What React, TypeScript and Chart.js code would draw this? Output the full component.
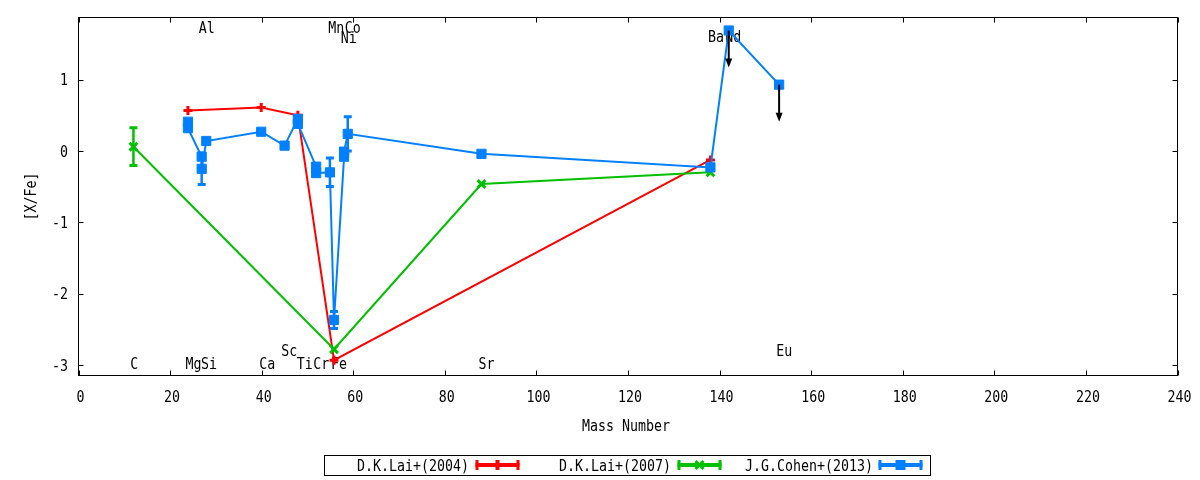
import React, { useEffect, useRef } from "react";
import { Chart, registerables } from "chart.js";

Chart.register(...registerables);

// ---- axis ranges and ticks ----
const xMin = 0;
const xMax = 240;
const yMin = -3.149;
const yMax = 1.872;
const xTicks = [0, 20, 40, 60, 80, 100, 120, 140, 160, 180, 200, 220, 240];
const yTicks = [-3, -2, -1, 0, 1];
const xTitle = "Mass Number";
const yTitle = "[X/Fe]";

// ---- series ----
const seriesNames = ["D.K.Lai+(2004)", "D.K.Lai+(2007)", "J.G.Cohen+(2013)"];
const seriesColors = ["#ff0000", "#00c000", "#0080ff"];

const lai2004Mass = [23.9, 39.9, 47.9, 55.8, 138];
const lai2004Val = [0.566, 0.608, 0.5, -2.935, -0.126];
const lai2004Err = [0, 0, 0, 0, 0];

const lai2007Mass = [12, 55.8, 88, 138];
const lai2007Val = [0.06, -2.78, -0.463, -0.3];
const lai2007Err = [0.265, 0, 0, 0];

const cohenMass = [23.9, 23.9, 26.9, 26.9, 27.9, 39.9, 45, 47.9, 47.9, 51.9, 51.9, 54.9, 55.8, 58, 58, 58.8, 88, 138, 142, 153];
const cohenVal = [0.41, 0.32, -0.08, -0.25, 0.14, 0.27, 0.075, 0.45, 0.38, -0.22, -0.31, -0.3, -2.37, -0.08, -0.01, 0.24, -0.04, -0.23, 1.69, 0.93];
const cohenErr = [0, 0, 0, 0.22, 0, 0, 0, 0, 0, 0, 0, 0.2, 0.12, 0, 0, 0.24, 0, 0, 0, 0];
const cohenUpperLimit = [false, false, false, false, false, false, false, false, false, false, false, false, false, false, false, false, false, false, true, true];
const arrowLength = 0.52;

// ---- element labels ----
const labelText = ["C", "Mg", "Si", "Al", "Ca", "Sc", "Ti", "Cr", "Mn", "Fe", "Co", "Ni", "Sr", "Ba", "Nd", "Eu"];
const labelX = [12.2, 25.1, 28.5, 28.0, 41.2, 46.0, 49.4, 53.0, 56.3, 56.9, 59.9, 59.0, 89.1, 139.2, 143.0, 154.1];
const labelY = [-2.98, -2.98, -2.98, 1.734, -2.98, -2.79, -2.98, -2.98, 1.734, -2.98, 1.734, 1.6, -2.98, 1.605, 1.605, -2.79];

const FONT = '16px "DejaVu Sans Mono"';
const SX = 0.83;
const CAP = 5.8;

function txt(ctx: CanvasRenderingContext2D, s: string, x: number, y: number, align: CanvasTextAlign, rot = 0) {
  ctx.save();
  ctx.translate(x, y);
  if (rot) ctx.rotate(rot);
  ctx.scale(SX, 1);
  ctx.font = FONT;
  ctx.fillStyle = "#000";
  ctx.textAlign = align;
  ctx.textBaseline = "alphabetic";
  ctx.fillText(s, 0, 0);
  ctx.restore();
}

const errs = [lai2004Err, lai2007Err, cohenErr];

const decorPlugin = {
  id: "decor",
  beforeDatasetsDraw(chart: any) {
    const ctx: CanvasRenderingContext2D = chart.ctx;
    const xs = chart.scales.x;
    const ys = chart.scales.y;
    for (let i = 0; i < labelText.length; i++) {
      txt(ctx, labelText[i], xs.getPixelForValue(labelX[i]), ys.getPixelForValue(labelY[i]) + CAP, "center");
    }
  },
  afterDatasetsDraw(chart: any) {
    const ctx: CanvasRenderingContext2D = chart.ctx;
    const xs = chart.scales.x;
    const ys = chart.scales.y;
    // error bars
    chart.data.datasets.forEach((ds: any, di: number) => {
      const e = errs[di];
      ds.data.forEach((p: any, i: number) => {
        if (!e[i]) return;
        const px = xs.getPixelForValue(p.x);
        const top = ys.getPixelForValue(p.y + e[i]);
        const bot = ys.getPixelForValue(p.y - e[i]);
        ctx.save();
        ctx.strokeStyle = seriesColors[di];
        ctx.lineWidth = 2.5;
        ctx.beginPath();
        ctx.moveTo(px, top);
        ctx.lineTo(px, bot);
        ctx.stroke();
        ctx.lineWidth = 3;
        ctx.beginPath();
        ctx.moveTo(px - 4, top);
        ctx.lineTo(px + 4, top);
        ctx.moveTo(px - 4, bot);
        ctx.lineTo(px + 4, bot);
        ctx.stroke();
        ctx.restore();
      });
    });
    // upper-limit arrows
    for (let i = 0; i < cohenMass.length; i++) {
      if (!cohenUpperLimit[i]) continue;
      const px = xs.getPixelForValue(cohenMass[i]);
      const y0 = ys.getPixelForValue(cohenVal[i]);
      const y1 = ys.getPixelForValue(cohenVal[i] - arrowLength);
      ctx.save();
      ctx.strokeStyle = "#000";
      ctx.fillStyle = "#000";
      ctx.lineWidth = 2;
      ctx.beginPath();
      ctx.moveTo(px, y0);
      ctx.lineTo(px, y1 - 4);
      ctx.stroke();
      ctx.beginPath();
      ctx.moveTo(px, y1);
      ctx.lineTo(px - 3.5, y1 - 9);
      ctx.lineTo(px + 3.5, y1 - 9);
      ctx.closePath();
      ctx.fill();
      ctx.restore();
    }
  },
  afterDraw(chart: any) {
    const ctx: CanvasRenderingContext2D = chart.ctx;
    const xs = chart.scales.x;
    const ys = chart.scales.y;
    const a = chart.chartArea;
    ctx.save();
    ctx.strokeStyle = "#000";
    ctx.lineWidth = 1;
    ctx.strokeRect(a.left, a.top, a.right - a.left, a.bottom - a.top);
    ctx.beginPath();
    xTicks.forEach((t) => {
      const px = Math.round(xs.getPixelForValue(t)) + 0.5;
      ctx.moveTo(px, a.bottom);
      ctx.lineTo(px, a.bottom - 5);
      ctx.moveTo(px, a.top);
      ctx.lineTo(px, a.top + 5);
    });
    yTicks.forEach((t) => {
      const py = Math.round(ys.getPixelForValue(t)) + 0.5;
      ctx.moveTo(a.left, py);
      ctx.lineTo(a.left + 5, py);
      ctx.moveTo(a.right, py);
      ctx.lineTo(a.right - 5, py);
    });
    ctx.stroke();
    ctx.restore();
    xTicks.forEach((t) => txt(ctx, String(t), xs.getPixelForValue(t) + 2, 401.5, "center"));
    yTicks.forEach((t) => txt(ctx, String(t), 68, ys.getPixelForValue(t) + CAP, "right"));
    txt(ctx, xTitle, 626, 430.5, "center");
    txt(ctx, yTitle, 35.8, (a.top + a.bottom) / 2, "center", -Math.PI / 2);

    // legend
    ctx.save();
    ctx.strokeStyle = "#000";
    ctx.lineWidth = 1;
    ctx.strokeRect(324.5, 455.5, 606, 20);
    ctx.restore();
    const textRight = [469, 671, 873];
    const sampleL = [475.5, 677.5, 878.5];
    const ly = 465;
    for (let i = 0; i < 3; i++) {
      txt(ctx, seriesNames[i], textRight[i], 471, "right");
      const l = sampleL[i];
      const r = l + 44;
      const m = (l + r) / 2;
      ctx.save();
      ctx.strokeStyle = seriesColors[i];
      ctx.fillStyle = seriesColors[i];
      ctx.lineWidth = 4;
      ctx.beginPath();
      ctx.moveTo(l, ly);
      ctx.lineTo(r, ly);
      ctx.stroke();
      ctx.lineWidth = 3;
      ctx.beginPath();
      ctx.moveTo(l + 1.5, ly - 5);
      ctx.lineTo(l + 1.5, ly + 5);
      ctx.moveTo(r - 1.5, ly - 5);
      ctx.lineTo(r - 1.5, ly + 5);
      ctx.stroke();
      if (i === 0) {
        ctx.lineWidth = 4;
        ctx.beginPath();
        ctx.moveTo(m, ly - 5);
        ctx.lineTo(m, ly + 5);
        ctx.stroke();
      } else if (i === 1) {
        ctx.lineWidth = 3;
        ctx.beginPath();
        ctx.moveTo(m - 4, ly - 4);
        ctx.lineTo(m + 4, ly + 4);
        ctx.moveTo(m - 4, ly + 4);
        ctx.lineTo(m + 4, ly - 4);
        ctx.stroke();
      } else {
        ctx.fillRect(m - 5, ly - 5, 10, 10);
      }
      ctx.restore();
    }
  },
};

function pts(xs: number[], ys: number[]) {
  return xs.map((x, i) => ({ x, y: ys[i] }));
}

export default function App() {
  const ref = useRef<HTMLCanvasElement>(null);
  useEffect(() => {
    if (!ref.current) return;
    const chart = new Chart(ref.current, {
      type: "scatter",
      data: {
        datasets: [
          {
            label: seriesNames[0],
            data: pts(lai2004Mass, lai2004Val),
            showLine: true,
            borderColor: seriesColors[0],
            backgroundColor: seriesColors[0],
            borderWidth: 2,
            pointStyle: "cross",
            pointRadius: 4.5,
            pointBorderWidth: 3,
            order: 2,
          },
          {
            label: seriesNames[1],
            data: pts(lai2007Mass, lai2007Val),
            showLine: true,
            borderColor: seriesColors[1],
            backgroundColor: seriesColors[1],
            borderWidth: 2,
            pointStyle: "crossRot",
            pointRadius: 5.5,
            pointBorderWidth: 3,
            order: 1,
          },
          {
            label: seriesNames[2],
            data: pts(cohenMass, cohenVal),
            showLine: true,
            borderColor: seriesColors[2],
            backgroundColor: seriesColors[2],
            borderWidth: 2,
            pointStyle: "rect",
            pointRadius: 6.5,
            pointBorderWidth: 1,
            order: 0,
          },
        ],
      },
      options: {
        animation: false,
        responsive: false,
        devicePixelRatio: 1,
        layout: { padding: { left: 78.5, right: 22.5, top: 17.5, bottom: 104.5 } },
        scales: {
          x: { type: "linear", min: xMin, max: xMax, display: false },
          y: { type: "linear", min: yMin, max: yMax, display: false },
        },
        plugins: { legend: { display: false }, tooltip: { enabled: false } },
        events: [],
      },
      plugins: [decorPlugin],
    });
    return () => chart.destroy();
  }, []);
  return (
    <div style={{ position: "fixed", left: 0, top: 0, width: 1200, height: 480, background: "#fff" }}>
      <canvas ref={ref} width={1200} height={480} style={{ display: "block", width: 1200, height: 480 }} />
    </div>
  );
}
